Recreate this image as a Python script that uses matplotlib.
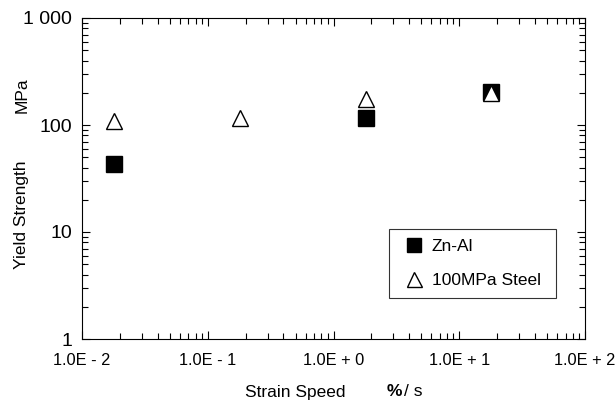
import matplotlib
matplotlib.use("Agg")
import matplotlib.pyplot as plt
from matplotlib.ticker import FixedLocator, FixedFormatter, LogLocator, NullFormatter

plt.rcParams['font.family'] = ['Liberation Sans', 'DejaVu Sans']

# 数据
strain_speed_znal = [0.018, 1.8, 18]
yield_znal = [43, 116, 203]
strain_speed_steel = [0.018, 0.18, 1.8, 18]
yield_steel = [109, 117, 176, 197]

x_ticks = [0.01, 0.1, 1, 10, 100]
x_labels = ["1.0E - 2", "1.0E - 1", "1.0E + 0", "1.0E + 1", "1.0E + 2"]
y_ticks = [1, 10, 100, 1000]
y_labels = ["1", "10", "100", "1 000"]

fig = plt.figure(figsize=(6.16, 4.0), dpi=100)
ax = fig.add_axes([82 / 616, 1 - 339 / 400, 503 / 616, 321 / 400])

ax.plot(strain_speed_znal, yield_znal, 's', color='black', markersize=11.5,
        linestyle='none', label='Zn-Al')
ax.plot(strain_speed_steel, yield_steel, '^', markerfacecolor='white',
        markeredgecolor='black', markeredgewidth=1.0, markersize=12,
        linestyle='none', label='100MPa Steel')

ax.set_xscale('log')
ax.set_yscale('log')
ax.set_xlim(0.01, 100)
ax.set_ylim(1, 1000)

ax.xaxis.set_major_locator(FixedLocator(x_ticks))
ax.xaxis.set_major_formatter(FixedFormatter(x_labels))
ax.yaxis.set_major_locator(FixedLocator(y_ticks))
ax.yaxis.set_major_formatter(FixedFormatter(y_labels))
for axis in [ax.xaxis, ax.yaxis]:
    axis.set_minor_locator(LogLocator(base=10, subs=range(2, 10)))
    axis.set_minor_formatter(NullFormatter())

ax.tick_params(which='both', direction='in', top=True, right=True, width=0.8)
ax.tick_params(which='major', length=6)
ax.tick_params(which='minor', length=4)
ax.tick_params(axis='x', which='major', labelsize=11.8, pad=10)
ax.tick_params(axis='y', which='major', labelsize=14, pad=7)
for s in ax.spines.values():
    s.set_linewidth(0.8)

# 轴标题
fig.text(22 / 616, 1 - 215 / 400, "Yield Strength", rotation=90,
         ha='center', va='center', fontsize=12.5)
fig.text(22 / 616, 1 - 95 / 400, "MPa", rotation=90,
         ha='center', va='center', fontsize=12.5)
fig.text(295 / 616, 1 - 392 / 400, "Strain Speed", ha='center', va='center',
         fontsize=12.5)
fig.text(394 / 616, 1 - 392 / 400, "%", ha='center', va='center',
         fontsize=12.5, fontweight='bold')
fig.text(413 / 616, 1 - 392 / 400, "/ s", ha='center', va='center',
         fontsize=12.5)

leg = ax.legend(loc='lower left', bbox_to_anchor=((389 - 82) / 503, (339 - 298) / 321,
                                                   (556 - 389) / 503, (298 - 229) / 321),
                mode='expand', fancybox=False, frameon=True, fontsize=12.5,
                handletextpad=0.1, borderaxespad=0, labelspacing=1.13,
                borderpad=0.55, handlelength=1.8, markerscale=0.9)
leg.get_frame().set_edgecolor('black')
leg.get_frame().set_linewidth(0.8)

fig.savefig("out.png", dpi=100)
